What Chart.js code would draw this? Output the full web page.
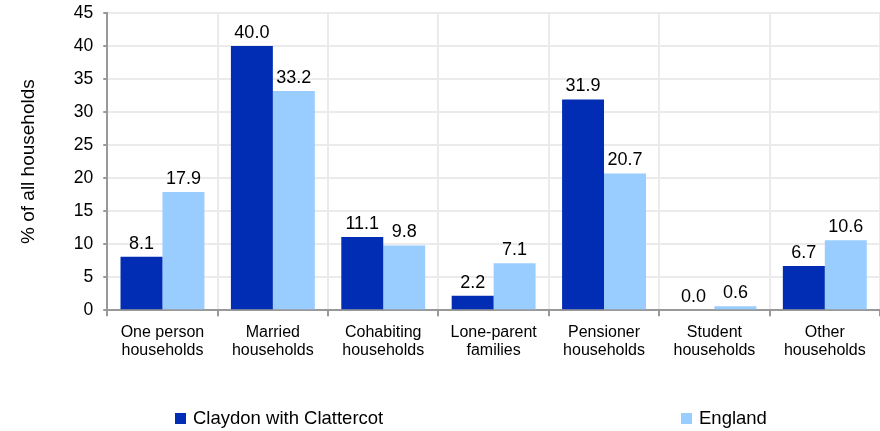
<!DOCTYPE html>
<html>
<head>
<meta charset="utf-8">
<script src="https://cdn.jsdelivr.net/npm/chart.js@4/dist/chart.umd.min.js"></script>
<style>
  html, body { margin: 0; padding: 0; background: #fff; }
  #wrap { width: 880px; height: 431px; }
</style>
</head>
<body>
<div id="wrap"><canvas id="c" width="880" height="431"></canvas></div>
<script>
const categories = [
  ['One person', 'households'],
  ['Married', 'households'],
  ['Cohabiting', 'households'],
  ['Lone-parent', 'families'],
  ['Pensioner', 'households'],
  ['Student', 'households'],
  ['Other', 'households']
];
const claydon = [8.1, 40.0, 11.1, 2.2, 31.9, 0.0, 6.7];
const england = [17.9, 33.2, 9.8, 7.1, 20.7, 0.6, 10.6];
const seriesNames = ['Claydon with Clattercot', 'England'];
const seriesColors = ['#002db3', '#99ccff'];

const FONT = '"Liberation Sans", Arial, sans-serif';

// value labels above each bar
const valueLabels = {
  id: 'valueLabels',
  afterDatasetsDraw(chart) {
    const ctx = chart.ctx;
    ctx.save();
    ctx.font = '18px ' + FONT;
    ctx.fillStyle = '#000';
    ctx.textAlign = 'center';
    ctx.textBaseline = 'bottom';
    chart.data.datasets.forEach((ds, i) => {
      chart.getDatasetMeta(i).data.forEach((bar, j) => {
        ctx.fillText(ds.data[j].toFixed(1), bar.x, bar.y - 4);
      });
    });
    ctx.restore();
  }
};

// legend spread across the bottom
const bottomLegend = {
  id: 'bottomLegend',
  afterDraw(chart) {
    const ctx = chart.ctx;
    const xs = [175, 681];
    const y = 419;
    ctx.save();
    ctx.font = '18.5px ' + FONT;
    ctx.textBaseline = 'middle';
    ctx.textAlign = 'left';
    chart.data.datasets.forEach((ds, i) => {
      ctx.fillStyle = ds.backgroundColor;
      ctx.fillRect(xs[i], y - 6, 11, 11);
      ctx.fillStyle = '#000';
      ctx.fillText(ds.label, xs[i] + 18, y);
    });
    ctx.restore();
  }
};

new Chart(document.getElementById('c').getContext('2d'), {
  type: 'bar',
  data: {
    labels: categories,
    datasets: [
      { label: seriesNames[0], data: claydon, backgroundColor: seriesColors[0] },
      { label: seriesNames[1], data: england, backgroundColor: seriesColors[1] }
    ]
  },
  options: {
    responsive: false,
    animation: false,
    layout: { padding: { top: 13, right: 0, bottom: 64, left: 17 } },
    datasets: { bar: { categoryPercentage: 0.76, barPercentage: 1.0 } },
    plugins: {
      legend: { display: false },
      tooltip: { enabled: false }
    },
    scales: {
      x: {
        grid: { color: '#ebebeb', lineWidth: 2, tickColor: '#999', tickLength: 6 },
        border: { color: '#999', width: 2 },
        ticks: { color: '#000', font: { family: FONT, size: 16, lineHeight: 1.15 }, maxRotation: 0, padding: 7 }
      },
      y: {
        min: 0, max: 45,
        afterFit(scale) { scale.paddingTop = 0; },
        grid: { color: '#ebebeb', lineWidth: 2, tickColor: '#999', tickLength: 4 },
        border: { color: '#999', width: 2 },
        ticks: { stepSize: 5, color: '#000', font: { family: FONT, size: 17.5 }, padding: 10 },
        title: { display: true, text: '% of all households', color: '#000', font: { family: FONT, size: 19 }, padding: { top: 0, bottom: 24 } }
      }
    }
  },
  plugins: [valueLabels, bottomLegend]
});
</script>
</body>
</html>
